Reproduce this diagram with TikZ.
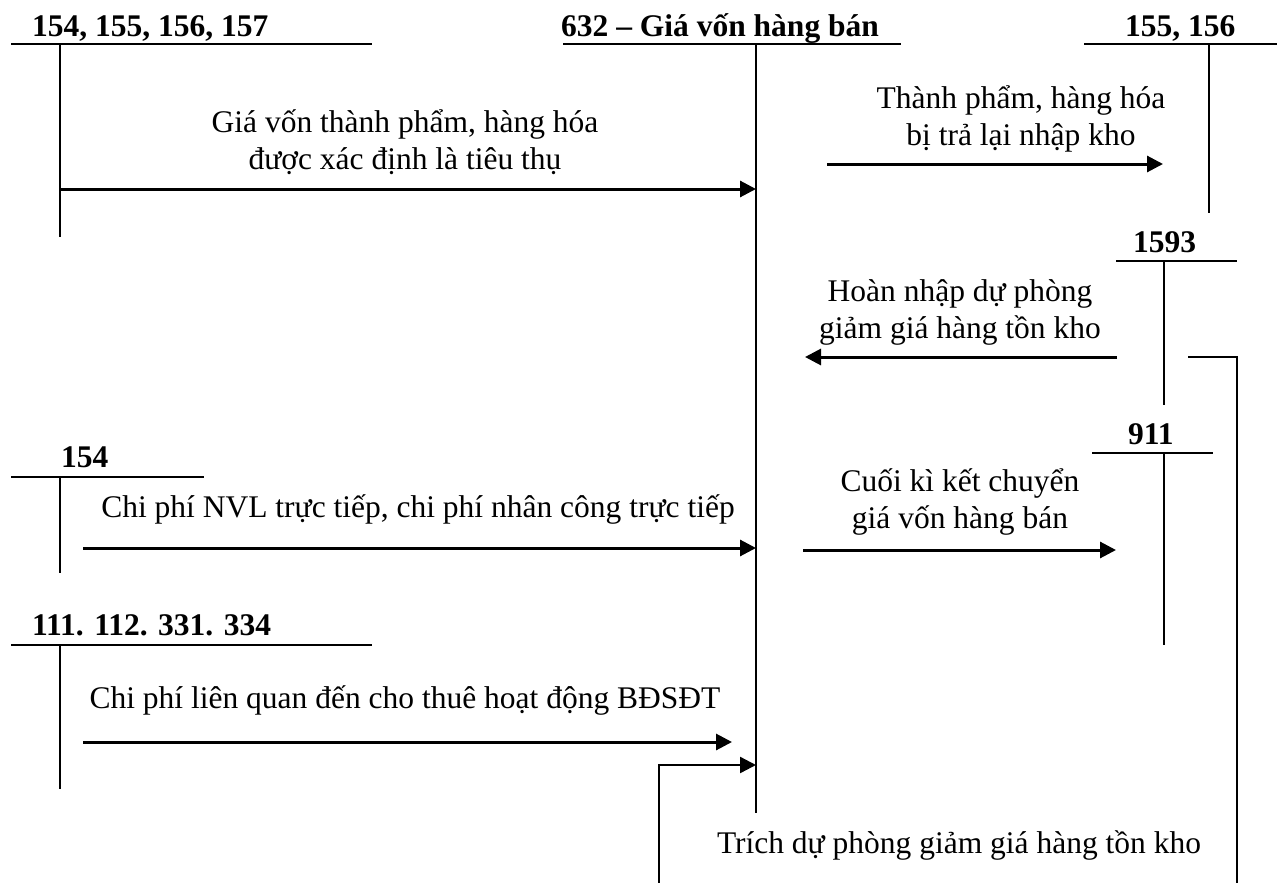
\documentclass[tikz,border=0pt]{standalone}
\usepackage{fontspec}
\setmainfont{Liberation Serif}
\usetikzlibrary{arrows.meta}
\begin{document}
\begin{tikzpicture}[x=1pt,y=-1pt,
  acc/.style={line width=2.2pt},
  flow/.style={line width=3pt,-{Triangle[length=16pt,width=16pt]}},
  lab/.style={font=\fontsize{31.5}{37}\selectfont\bfseries,inner sep=0pt,anchor=base west},
  txt/.style={font=\fontsize{31.5}{37}\selectfont,inner sep=0pt,align=center,anchor=base}]
\useasboundingbox (0,0) rectangle (1280,883);
% account labels
\node[lab] (lA) at (32,37) {154, 155, 156, 157};
\node[lab] (lB) at (561,37) {632 – Giá vốn hàng bán};
\node[lab] (lC) at (1125,37) {155, 156};
\node[lab] (lD) at (1133,252) {1593};
\node[lab] (lE) at (1128,444) {911};
\node[lab] (lF) at (61,467) {154};
\node[lab] (lG) at (32,635) {111. 112. 331. 334};
% T accounts
\coordinate (A1) at (11,44); \coordinate (A2) at (372,44);
\coordinate (At) at (60,44); \coordinate (Ab) at (60,237);
\coordinate (B1) at (563,44); \coordinate (B2) at (901,44);
\coordinate (Bt) at (756,44); \coordinate (Bb) at (756,813);
\coordinate (C1) at (1084,44); \coordinate (C2) at (1277,44);
\coordinate (Ct) at (1209,44); \coordinate (Cb) at (1209,213);
\coordinate (D1) at (1116,261); \coordinate (D2) at (1237,261);
\coordinate (Dt) at (1164,261); \coordinate (Db) at (1164,405);
\coordinate (E1) at (1092,453); \coordinate (E2) at (1213,453);
\coordinate (Et) at (1164,453); \coordinate (Eb) at (1164,645);
\coordinate (F1) at (11,477); \coordinate (F2) at (204,477);
\coordinate (Ft) at (60,477); \coordinate (Fb) at (60,573);
\coordinate (G1) at (11,645); \coordinate (G2) at (372,645);
\coordinate (Gt) at (60,645); \coordinate (Gb) at (60,789);
\foreach \t in {A,B,C,D,E,F,G}{
  \draw[acc] (\t1) -- (\t2);
  \draw[acc] (\t t) -- (\t b);
}
% texts
\node[txt] (t1) at (405,169) {Giá vốn thành phẩm, hàng hóa\\được xác định là tiêu thụ};
\node[txt] (t2) at (1021,145) {Thành phẩm, hàng hóa\\bị trả lại nhập kho};
\node[txt] (t3) at (960,338) {Hoàn nhập dự phòng\\giảm giá hàng tồn kho};
\node[txt] (t4) at (960,528) {Cuối kì kết chuyển\\giá vốn hàng bán};
\node[txt] (t5) at (418,517) {Chi phí NVL trực tiếp, chi phí nhân công trực tiếp};
\node[txt] (t6) at (405,708) {Chi phí liên quan đến cho thuê hoạt động BĐSĐT};
\node[txt] (t7) at (959,853) {Trích dự phòng giảm giá hàng tồn kho};
% arrows
\coordinate (s1) at (60,189); \coordinate (e1) at (756,189);
\coordinate (s2) at (827,164); \coordinate (e2) at (1163,164);
\coordinate (s3) at (1117,357); \coordinate (e3) at (805,357);
\coordinate (s4) at (803,550); \coordinate (e4) at (1116,550);
\coordinate (s5) at (83,548); \coordinate (e5) at (756,548);
\coordinate (s6) at (83,742); \coordinate (e6) at (732,742);
\draw[flow] (s1) -- (e1);
\draw[flow] (s2) -- (e2);
\draw[flow] (s3) -- (e3);
\draw[flow] (s4) -- (e4);
\draw[flow] (s5) -- (e5);
\draw[flow] (s6) -- (e6);
\coordinate (r1) at (1188,357); \coordinate (r2) at (1237,357); \coordinate (r3) at (1237,883);
\coordinate (q1) at (659,883); \coordinate (q2) at (659,765); \coordinate (q3) at (756,765);
\draw[acc] (r1) -- (r2) -- (r3);
\draw[flow,line width=2.4pt] (q1) -- (q2) -- (q3);
\end{tikzpicture}
\end{document}
